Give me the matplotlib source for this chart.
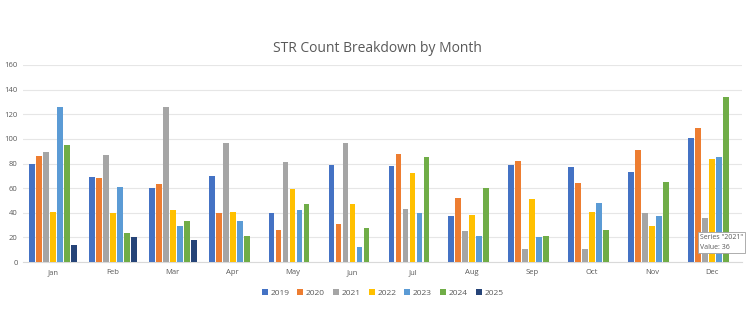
import matplotlib
matplotlib.use("Agg")
import matplotlib.pyplot as plt
import numpy as np

months = ["Jan", "Feb", "Mar", "Apr", "May", "Jun", "Jul", "Aug", "Sep", "Oct", "Nov", "Dec"]
years = ["2019", "2020", "2021", "2022", "2023", "2024", "2025"]

v2019 = [80, 69, 60, 70, 40, 79, 78, 37, 79, 77, 73, 101]
v2020 = [86, 68, 63, 40, 26, 31, 88, 52, 82, 64, 91, 109]
v2021 = [89, 87, 126, 97, 81, 97, 43, 25, 11, 11, 40, 36]
v2022 = [41, 40, 42, 41, 59, 47, 72, 38, 51, 41, 29, 84]
v2023 = [126, 61, 29, 33, 42, 12, 40, 21, 20, 48, 37, 85]
v2024 = [95, 24, 33, 21, 47, 28, 85, 60, 21, 26, 65, 134]
v2025 = [14, 20, 18] + [np.nan] * 9

series = [v2019, v2020, v2021, v2022, v2023, v2024, v2025]
colors = ["#4472C4", "#ED7D31", "#A5A5A5", "#FFC000", "#5B9BD5", "#70AD47", "#264478"]

plt.rcParams['font.family'] = ['Open Sans', 'DejaVu Sans']
txt = "#595959"

fig = plt.figure(figsize=(7.47, 3.33), dpi=100)
ax = fig.add_axes([0.031, 0.213, 0.962, 0.592])

x = np.arange(len(months))
step = 0.117
w = 0.095
for i, (vals, c, yr) in enumerate(zip(series, colors, years)):
    ax.bar(x + (i - 3) * step, vals, width=w, color=c, label=yr, zorder=3)

ax.set_xlim(-0.5, 11.5)
ax.set_ylim(0, 160)
ax.set_yticks(range(0, 161, 20))
ax.set_xticks(x)
ax.set_xticklabels(months)
ax.tick_params(length=0, labelsize=5.5, colors=txt)
ax.tick_params(axis='y', pad=4)
ax.tick_params(axis='x', pad=5)
ax.grid(axis='y', color="#E6E6E6", linewidth=0.8, zorder=0)
for s in ["top", "right", "left"]:
    ax.spines[s].set_visible(False)
ax.spines["bottom"].set_color("#D9D9D9")

fig.text(0.505, 0.855, "STR Count Breakdown by Month", ha="center", va="center",
         fontsize=10, color=txt)

ax.legend(loc="upper center", bbox_to_anchor=(0.5, -0.10), ncol=7, frameon=False,
          fontsize=6, labelcolor=txt, handlelength=0.7, handleheight=0.7,
          columnspacing=1.0, handletextpad=0.3)

# hover tooltip left in the screenshot
fig.text(0.937, 0.272, 'Series "2021"\nValue: 36', fontsize=5, color=txt,
         ha="left", va="center", linespacing=1.5,
         bbox=dict(boxstyle="square,pad=0.3", fc="white", ec="#A0A0A0", lw=0.6))

fig.savefig("out.png", dpi=100)
